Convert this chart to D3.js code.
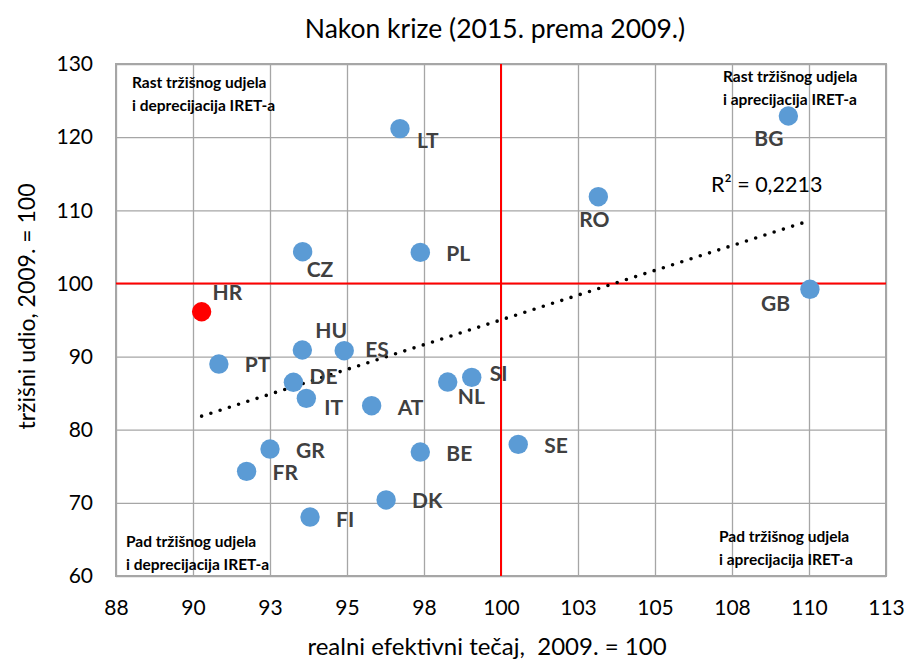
<!DOCTYPE html>
<html>
<head>
<meta charset="utf-8">
<script src="https://cdn.jsdelivr.net/npm/d3@7"></script>
<style>
  body { margin: 0; background: #fff; }
  text { font-family: Lato, "Open Sans", sans-serif; }
</style>
</head>
<body>
<div id="chart"></div>
<script>
const width = 908, height = 659;
const margin = {top: 64, right: 22, bottom: 83, left: 116};

// data
const countries = ["HR", "PT", "HU", "ES", "DE", "IT", "AT", "GR", "FR", "FI", "DK",
	"CZ", "LT", "PL", "RO", "BG", "GB", "NL", "SI", "BE", "SE"];
const reer = [90.28, 90.84, 93.55, 94.91, 93.26, 93.68, 95.80, 92.50, 91.74, 93.80, 96.27,
	93.56, 96.72, 97.38, 103.16, 109.33, 110.03, 98.27, 99.05, 97.38, 100.56];
const marketShare = [96.13, 88.98, 90.90, 90.80, 86.48, 84.29, 83.28, 77.36, 74.31, 68.06, 70.40,
	104.34, 121.16, 104.25, 111.86, 122.89, 99.20, 86.52, 87.16, 76.95, 78.00];
const xTicks = [87.5, 90, 92.5, 95, 97.5, 100, 102.5, 105, 107.5, 110, 112.5];
const yTicks = [60, 70, 80, 90, 100, 110, 120, 130];
const rSquaredLabel = "R² = 0,2213";

// label placement relative to the marker (layout only)
const labelOffset = {
	HR: [11, -12], PT: [26, 8], HU: [13, -12], ES: [21, 6], DE: [16, 2], IT: [18, 17],
	AT: [26, 9], GR: [26, 9], FR: [26, 9], FI: [26, 10], DK: [26, 8], CZ: [4, 25],
	LT: [17, 19], PL: [26, 9], RO: [-19, 30], BG: [-34, 30], GB: [-49, 22],
	NL: [10, 22], SI: [18, 4], BE: [26, 9], SE: [26, 9]
};

const data = countries.map((c, i) => ({name: c, x: reer[i], y: marketShare[i]}));

const svg = d3.select("#chart")
	.append("svg")
	.attr("width", width)
	.attr("height", height);

const x = d3.scaleLinear().domain([87.5, 112.5]).range([margin.left, width - margin.right]);
const y = d3.scaleLinear().domain([60, 130]).range([height - margin.bottom, margin.top]);

// ============ grid ============
svg.append("g")
	.attr("transform", `translate(0,${margin.top})`)
	.call(d3.axisBottom(x).tickValues(xTicks).tickSize(height - margin.top - margin.bottom).tickFormat(""))
	.call(g => g.select(".domain").remove())
	.call(g => g.selectAll("line").attr("stroke", "#a6a6a6").attr("stroke-width", 1.3));

svg.append("g")
	.attr("transform", `translate(${margin.left},0)`)
	.call(d3.axisRight(y).tickValues(yTicks).tickSize(width - margin.left - margin.right).tickFormat(""))
	.call(g => g.select(".domain").remove())
	.call(g => g.selectAll("line").attr("stroke", "#a6a6a6").attr("stroke-width", 1.3));

svg.append("rect")
	.attr("x", margin.left)
	.attr("y", margin.top)
	.attr("width", width - margin.left - margin.right)
	.attr("height", height - margin.top - margin.bottom)
	.attr("fill", "none")
	.attr("stroke", "#a6a6a6")
	.attr("stroke-width", 2);

// red reference lines at 100
svg.append("line")
	.attr("x1", x(100)).attr("x2", x(100))
	.attr("y1", margin.top).attr("y2", height - margin.bottom)
	.attr("stroke", "#ff0000").attr("stroke-width", 2);
svg.append("line")
	.attr("x1", margin.left).attr("x2", width - margin.right)
	.attr("y1", y(100)).attr("y2", y(100))
	.attr("stroke", "#ff0000").attr("stroke-width", 2);

// ============ axes labels ============
svg.append("g")
	.attr("transform", `translate(0,${height - margin.bottom})`)
	.call(d3.axisBottom(x).tickValues(xTicks).tickSize(0).tickPadding(24).tickFormat(d => Math.round(d)))
	.call(g => g.select(".domain").remove())
	.call(g => g.selectAll("text").attr("font-size", 21).attr("fill", "#000")
		.style("font-family", "Lato, sans-serif"));

svg.append("g")
	.attr("transform", `translate(${margin.left},0)`)
	.call(d3.axisLeft(y).tickValues(yTicks).tickSize(0).tickPadding(23))
	.call(g => g.select(".domain").remove())
	.call(g => g.selectAll("text").attr("font-size", 21).attr("fill", "#000")
		.style("font-family", "Lato, sans-serif"));

svg.append("text")
	.attr("x", 495).attr("y", 38)
	.attr("text-anchor", "middle")
	.attr("font-size", 26.5)
	.text("Nakon krize (2015. prema 2009.)");

svg.append("text")
	.attr("x", 487).attr("y", 655)
	.attr("text-anchor", "middle")
	.attr("font-size", 24)
	.style("white-space", "pre")
	.text("realni efektivni tečaj,  2009. = 100");

svg.append("text")
	.attr("transform", "translate(35,306.5) rotate(-90)")
	.attr("text-anchor", "middle")
	.attr("font-size", 23)
	.text("tržišni udio, 2009. = 100");

// ============ quadrant notes ============
const notes = [
	{x: 132, y: 88, lines: ["Rast tržišnog udjela", "i deprecijacija IRET-a"]},
	{x: 723, y: 82, lines: ["Rast tržišnog udjela", "i aprecijacija IRET-a"]},
	{x: 126, y: 547, lines: ["Pad tržišnog udjela", "i deprecijacija IRET-a"]},
	{x: 719, y: 542, lines: ["Pad tržišnog udjela", "i aprecijacija IRET-a"]}
];
notes.forEach(n => {
	const t = svg.append("text")
		.attr("font-size", 15.5)
		.attr("font-weight", "bold")
		.attr("fill", "#000");
	n.lines.forEach((l, i) => {
		t.append("tspan").attr("x", n.x).attr("y", n.y + i * 22.5).text(l);
	});
});

// ============ trend line ============
const mx = d3.mean(data, d => d.x), my = d3.mean(data, d => d.y);
const slope = d3.sum(data, d => (d.x - mx) * (d.y - my)) / d3.sum(data, d => (d.x - mx) ** 2);
const icpt = my - slope * mx;
const [xmin, xmax] = d3.extent(data, d => d.x);

svg.append("line")
	.attr("x1", x(xmin)).attr("y1", y(icpt + slope * xmin))
	.attr("x2", x(xmax)).attr("y2", y(icpt + slope * xmax))
	.attr("stroke", "#000")
	.attr("stroke-width", 3.6)
	.attr("stroke-linecap", "round")
	.attr("stroke-dasharray", "0,9.7");

svg.append("text")
	.attr("x", 711).attr("y", 192)
	.attr("font-size", 21.5)
	.text(rSquaredLabel);

// ============ points ============
svg.selectAll(".pt")
	.data(data)
	.enter()
	.append("circle")
	.classed("pt", true)
	.attr("cx", d => x(d.x))
	.attr("cy", d => y(d.y))
	.attr("r", 9.7)
	.attr("fill", d => d.name === "HR" ? "#ff0000" : "#5b9bd5");

svg.selectAll(".label")
	.data(data)
	.enter()
	.append("text")
	.classed("label", true)
	.attr("x", d => x(d.x) + labelOffset[d.name][0])
	.attr("y", d => y(d.y) + labelOffset[d.name][1])
	.attr("font-size", 21)
	.attr("font-weight", "bold")
	.attr("fill", "#404040")
	.text(d => d.name);
</script>
</body>
</html>
